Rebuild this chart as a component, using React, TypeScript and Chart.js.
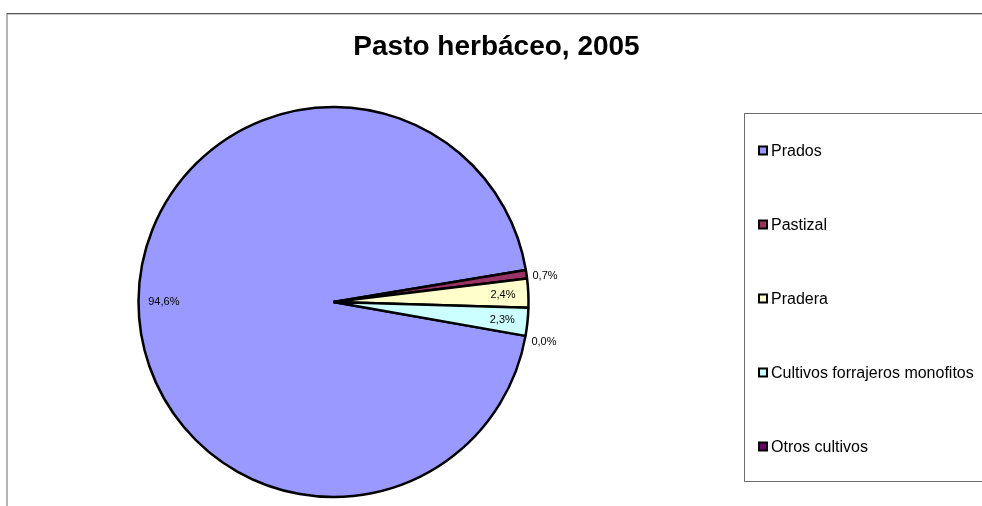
import React, { useEffect, useRef } from "react";
import { Chart, registerables } from "chart.js";

Chart.register(...registerables);

const TITLE = "Pasto herbáceo, 2005";
const categories = ["Prados", "Pastizal", "Pradera", "Cultivos forrajeros monofitos", "Otros cultivos"];
const values = [94.6, 0.7, 2.4, 2.3, 0.0];
const colors = ["#9999FF", "#993366", "#FFFFCC", "#CCFFFF", "#660066"];

const FONT = "'Liberation Sans', Arial, Helvetica, sans-serif";

const fmtPct = (v: number, total: number) => ((v / total) * 100).toFixed(1).replace(".", ",") + "%";

const decorPlugin = {
  id: "decor",
  beforeDraw(chart: any) {
    const ctx = chart.ctx;
    ctx.save();
    // outer frame (top + left)
    ctx.fillStyle = "#b4b4b4";
    ctx.fillRect(6, 13, 2, 500);
    ctx.fillStyle = "#555555";
    ctx.fillRect(7, 13, 980, 1.3);
    // legend box
    ctx.strokeStyle = "#6e6e6e";
    ctx.lineWidth = 1;
    ctx.strokeRect(744.5, 113.5, 300, 368);
    // legend items
    ctx.font = `16px ${FONT}`;
    ctx.textBaseline = "middle";
    ctx.textAlign = "left";
    categories.forEach((c, i) => {
      const y = 150.5 + i * 74;
      ctx.fillStyle = "#000";
      ctx.fillRect(758, y - 5, 10, 10);
      ctx.fillStyle = colors[i];
      ctx.fillRect(760, y - 3, 6, 6);
      ctx.fillStyle = "#000";
      ctx.fillText(c, 771, y + 1);
    });
    // title
    ctx.font = `bold 28px ${FONT}`;
    ctx.textAlign = "center";
    ctx.textBaseline = "alphabetic";
    ctx.fillStyle = "#000";
    ctx.fillText(TITLE, 496.5, 55);
    ctx.restore();
  },
  afterDatasetsDraw(chart: any) {
    const ctx = chart.ctx;
    const meta = chart.getDatasetMeta(0);
    const data: number[] = chart.data.datasets[0].data;
    const total = data.reduce((a, b) => a + b, 0);
    ctx.save();
    ctx.font = `11px ${FONT}`;
    ctx.fillStyle = "#000";
    ctx.textBaseline = "middle";
    meta.data.forEach((arc: any, i: number) => {
      const mid = (arc.startAngle + arc.endAngle) / 2;
      const pct = (data[i] / total) * 100;
      const R = arc.outerRadius;
      const txt = fmtPct(data[i], total);
      if (pct < 1) {
        ctx.textAlign = "left";
        const x = arc.x + (R + 6) * Math.cos(mid);
        const y = arc.y + (R + 14) * Math.sin(mid) + 4;
        ctx.fillText(txt, x, y);
      } else {
        ctx.textAlign = "center";
        const x = arc.x + R * 0.87 * Math.cos(mid);
        const y = arc.y + R * 0.87 * Math.sin(mid) + 1;
        ctx.fillText(txt, x, y);
      }
    });
    ctx.restore();
  },
};

export default function App() {
  const ref = useRef<HTMLCanvasElement>(null);
  useEffect(() => {
    if (!ref.current) return;
    const chart = new Chart(ref.current, {
      type: "pie",
      data: {
        labels: categories,
        datasets: [
          {
            data: values,
            backgroundColor: colors,
            borderColor: "#000000",
            borderWidth: 2.5,
          },
        ],
      },
      options: {
        responsive: false,
        animation: false,
        rotation: 100,
        radius: 195,
        layout: { padding: { left: 100, right: 415, top: 100, bottom: 2 } },
        plugins: {
          legend: { display: false },
          tooltip: { enabled: false },
          title: { display: false },
        },
      } as any,
      plugins: [decorPlugin],
    });
    return () => chart.destroy();
  }, []);
  return (
    <div style={{ position: "absolute", left: 0, top: 0, width: 982, height: 506, background: "#fff" }}>
      <canvas ref={ref} width={982} height={506} style={{ display: "block" }} />
    </div>
  );
}
